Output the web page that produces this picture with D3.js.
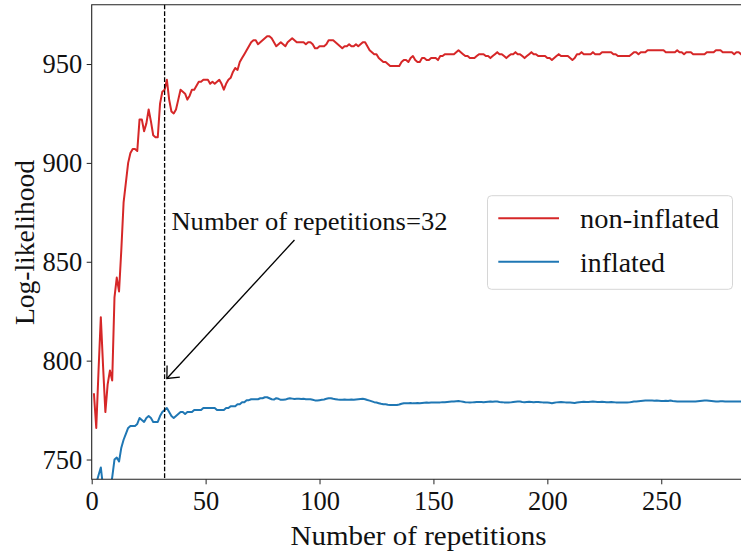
<!DOCTYPE html>
<html>
<head>
<meta charset="utf-8">
<script src="https://cdn.jsdelivr.net/npm/d3@7"></script>
<style>
  body { margin: 0; background: #fff; }
  svg text { font-family: "Liberation Serif", "Times New Roman", serif; fill: #111; }
</style>
</head>
<body>
<svg id="chart" width="741" height="554"></svg>
<script>
// Log-likelihood per number of repetitions (1..285)
const repetitions = d3.range(1, 286);

const nonInflated = [
  783,766,795,822,797,774,788,795,790,832, 842,835,856,880,890,900,905,907,907,906,
  922,922,916,920,927,921,914,913,913,930, 936,937,942,932,926,925,927,932,937,936,
  935,932,934,937,937,939,941,941,942,942, 942,940,941,940,941,942,940,937,940,942,
  943,946,948,947,951,953,955,957,959,961, 962,962,960,961,962,963,964,964,963,961,
  959,960,961,960,959,961,962,963,962,961, 961,961,961,960,961,961,960,958,958,959,
  959,959,960,962,962,962,961,960,959,958, 959,959,960,959,959,960,959,960,961,961,
  959,957,956,955,955,953,952,951,951,950, 949,949,949,949,949,951,952,952,951,953,
  954,952,951,951,953,953,952,952,953,953, 953,952,954,954,955,955,955,955,955,956,
  957,956,955,954,954,953,953,953,954,955, 955,955,954,954,953,954,955,956,955,955,
  954,953,954,955,955,956,955,955,954,953, 954,955,956,955,955,954,954,954,954,953,
  953,952,953,954,955,954,954,954,954,953, 952,953,955,955,956,955,955,955,955,956,
  955,955,955,956,956,956,956,956,955,955, 954,954,954,954,954,954,955,956,956,955,
  956,956,956,957,957,957,957,957,957,957, 957,956,956,956,956,956,957,956,956,955,
  956,956,956,955,955,955,955,955,955,956, 956,956,956,957,957,957,956,956,956,956,
  956,955,956,956,955
];

const inflated = [
  735,738,742,746,736,728,730,734,741,750, 751,749,756,760,763,766,767,767,767,768,
  771,770,769,771,772,771,769,769,769,772, 774,775,776,774,772,771,772,773,774,774,
  773,774,774,774,775,775,775,775,776,776, 776,776,776,776,775,775,775,775,776,776,
  777,777,777,778,778,779,779,780,780,780.5, 780.5,780.5,780.5,781,781,781.5,781.5,781,780.5,780.3,
  781,780.7,780.2,780.2,780.3,780.7,781,780.8,780.6,780.7, 780.7,780.6,780.7,780.5,780.5,780.5,780.2,779.9,779.8,780,
  780.2,780.4,780.7,781,781,780.7,780.5,780.3,780.2,780.2, 780.3,780.2,780.2,780.3,780.2,780.4,780.5,780.6,780.7,780.5,
  780.1,779.8,779.4,779,778.8,778.5,778.2,778,777.9,777.7, 777.6,777.6,777.6,777.6,777.8,778.2,778.5,778.4,778.5,778.6,
  778.4,778.5,778.6,778.5,778.6,778.7,778.8,778.7,778.8,778.8, 778.8,778.9,778.9,779,779,779.1,779.2,779.3,779.4,779.5,
  779.6,779.4,779.2,779,778.9,778.8,778.9,779,779.1,779.1, 779.1,779,779.1,779.2,779.3,779.2,779.3,779.3,779.1,779,
  778.9,778.9,778.8,778.9,779.1,779.2,779.3,779.3,779.1,779, 779.1,779.2,779.1,779,779.1,779.1,779,778.9,778.9,778.8,
  778.7,778.5,778.7,778.9,779,779.1,779,778.9,778.9,778.8, 778.7,778.6,778.8,779,779.1,779.2,779.1,779.1,779.2,779.3,
  779.2,779.1,779.1,779.2,779.1,779,779,779.1,779,778.9, 778.9,778.9,778.8,778.8,778.8,778.9,779.1,779.3,779.4,779.5,
  779.6,779.7,779.8,779.8,779.8,779.8,779.7,779.8,779.7,779.6, 779.6,779.7,779.6,779.8,779.6,779.5,779.4,779.3,779.3,779.3,
  779.4,779.4,779.3,779.3,779.4,779.5,779.6,779.7,779.8,779.8, 779.7,779.6,779.5,779.4,779.4,779.5,779.5,779.4,779.4,779.3,
  779.3,779.4,779.3,779.3,779.3
];

const seriesNames = ["non-inflated", "inflated"];
const seriesColors = ["#d62728", "#1f77b4"];
const xTicks = [0, 50, 100, 150, 200, 250];
const yTicks = [750, 800, 850, 900, 950];
const chosenRepetitions = 32;
const annotationText = "Number of repetitions=32";
const annotationTail = [89, 861];   // start of the arrow, under the text (data units)
const annotationTip = [33, 791];    // arrow point (data units)
const annotationTextPos = [35, 866];

const svg = d3.select("#chart");
const plotLeft = 91.7, plotRight = 741, plotTop = 4.7, plotBottom = 479.3;

const x = d3.scaleLinear().domain([0, 285]).range([plotLeft, plotRight]);
const y = d3.scaleLinear().domain([740, 980]).range([plotBottom, plotTop]);

svg.append("defs").append("clipPath").attr("id", "plot")
  .append("rect").attr("x", plotLeft).attr("y", plotTop)
  .attr("width", plotRight - plotLeft + 20).attr("height", plotBottom - plotTop);

// series lines
const series = [nonInflated, inflated];
const line = d3.line().x((d, i) => x(repetitions[i])).y(d => y(d));
const lines = svg.append("g").attr("clip-path", "url(#plot)");
series.forEach((vals, k) => {
  lines.append("path").datum(vals)
    .attr("d", line)
    .attr("fill", "none")
    .attr("stroke", seriesColors[k])
    .attr("stroke-width", 2)
    .attr("stroke-linejoin", "round")
    .attr("stroke-linecap", "square");
});

// vertical marker at the chosen number of repetitions
svg.append("line")
  .attr("x1", x(chosenRepetitions)).attr("x2", x(chosenRepetitions))
  .attr("y1", plotTop).attr("y2", plotBottom)
  .attr("stroke", "#000").attr("stroke-width", 1.3)
  .attr("stroke-dasharray", "4.6,2");

// axes
const xAxis = svg.append("g").attr("transform", `translate(0,${plotBottom})`)
  .call(d3.axisBottom(x).tickValues(xTicks).tickSize(5).tickPadding(7));
const yAxis = svg.append("g").attr("transform", `translate(${plotLeft},0)`)
  .call(d3.axisLeft(y).tickValues(yTicks).tickSize(5).tickPadding(4.5));
[xAxis, yAxis].forEach(g => {
  g.select(".domain").remove();
  g.selectAll(".tick line").attr("stroke", "#222").attr("stroke-width", 1);
  g.selectAll(".tick text")
    .style("font-family", '"Liberation Serif", serif')
    .style("font-size", "26.5px").attr("fill", "#111");
});

// frame (the right edge lies past the drawing)
svg.append("path")
  .attr("d", `M${plotRight + 10},${plotTop}H${plotLeft}V${plotBottom}H${plotRight + 10}`)
  .attr("fill", "none").attr("stroke", "#222").attr("stroke-width", 1.1);

// axis titles
svg.append("text")
  .attr("x", 418.5).attr("y", 545)
  .attr("text-anchor", "middle")
  .attr("textLength", 256).attr("lengthAdjust", "spacingAndGlyphs")
  .style("font-size", "28px")
  .text("Number of repetitions");

svg.append("text")
  .attr("transform", "translate(34,242.5) rotate(-90)")
  .attr("text-anchor", "middle")
  .attr("textLength", 165).attr("lengthAdjust", "spacingAndGlyphs")
  .style("font-size", "28px")
  .text("Log-likelihood");

// annotation
svg.append("text")
  .attr("x", x(annotationTextPos[0])).attr("y", y(annotationTextPos[1]))
  .attr("textLength", 276).attr("lengthAdjust", "spacingAndGlyphs")
  .style("font-size", "25.5px")
  .text(annotationText);

const tx = x(annotationTail[0]), ty = y(annotationTail[1]);
const px = x(annotationTip[0]), py = y(annotationTip[1]);
svg.append("line")
  .attr("x1", tx).attr("y1", ty).attr("x2", px).attr("y2", py)
  .attr("stroke", "#000").attr("stroke-width", 1.3);
const ang = Math.atan2(ty - py, tx - px);
const headLen = 13, headSpread = Math.PI / 4.3;
svg.append("path")
  .attr("d", `M${px + headLen * Math.cos(ang - headSpread)},${py + headLen * Math.sin(ang - headSpread)}` +
             `L${px},${py}` +
             `L${px + headLen * Math.cos(ang + headSpread)},${py + headLen * Math.sin(ang + headSpread)}`)
  .attr("fill", "none").attr("stroke", "#000").attr("stroke-width", 1.3);

// legend
const legend = svg.append("g");
legend.append("rect")
  .attr("x", 487.5).attr("y", 195.7).attr("width", 245).attr("height", 93.6)
  .attr("rx", 4).attr("fill", "#fff").attr("fill-opacity", 0.8)
  .attr("stroke", "#d6d6d6").attr("stroke-width", 1);
const legendWidths = [139, 85];
seriesNames.forEach((name, k) => {
  const ly = 218.3 + k * 43.4;
  legend.append("line")
    .attr("x1", 498.3).attr("x2", 559).attr("y1", ly).attr("y2", ly)
    .attr("stroke", seriesColors[k]).attr("stroke-width", 2);
  legend.append("text")
    .attr("x", 580).attr("y", ly + 10)
    .attr("textLength", legendWidths[k]).attr("lengthAdjust", "spacingAndGlyphs")
    .style("font-size", "27.5px")
    .text(name);
});
</script>
</body>
</html>
